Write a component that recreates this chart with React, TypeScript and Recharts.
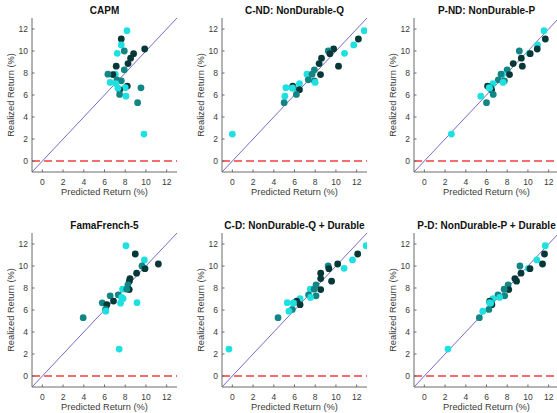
import React from "react";
import {
  ScatterChart,
  Scatter,
  XAxis,
  YAxis,
  ReferenceLine,
} from "recharts";

// ---------------------------------------------------------------------------
// Data: realized returns are shared, predicted returns differ per model
// ---------------------------------------------------------------------------

const realized = [
  11.84, 11.09, 10.55, 10.18, 10.0, 9.79, 9.76, 9.35, 8.86, 8.62, 8.29, 7.89,
  7.86, 7.89, 7.38, 7.29, 7.14, 7.04, 6.81, 6.67, 6.65, 6.48, 6.05, 5.89, 5.3,
  2.45, 6.62,
];

// 0 = light, 1 = mid, 2 = dark
const group = [
  0, 2, 0, 2, 1, 0, 2, 2, 2, 2, 1, 0, 2, 1, 1, 1, 0, 0, 2, 0, 1, 2, 1, 0, 1, 0, 0,
];

const capm = [
  8.17, 7.62, 7.62, 9.88, 7.91, 7.23, 8.81, 8.52, 8.27, 7.13, 7.91, 7.04, 6.81,
  6.33, 7.2, 7.62, 6.55, 7.1, 8.2, 8.0, 9.52, 7.46, 7.46, 8.07, 9.2, 9.81, 7.3,
];
const cnd = [
  12.73, 12.17, 11.72, 9.78, 9.26, 10.83, 9.42, 8.61, 8.38, 10.25, 7.92, 7.2,
  8.51, 7.7, 7.33, 7.92, 7.99, 6.48, 5.83, 5.17, 5.9, 6.48, 6.18, 5.07, 5.0, 0.0,
  5.79,
];
const pnd = [
  11.55, 11.68, 10.93, 10.9, 9.17, 10.12, 10.22, 9.36, 8.58, 9.46, 7.99, 7.53,
  8.22, 7.4, 7.14, 7.73, 7.6, 6.62, 6.1, 6.26, 6.4, 6.49, 6.65, 5.45, 6.0, 2.61,
  6.3,
];
const ff5 = [
  8.07, 8.97, 9.85, 11.2, 9.62, 9.91, 9.9, 9.1, 8.46, 8.4, 8.26, 7.75, 8.39,
  8.15, 7.33, 6.55, 7.65, 7.8, 6.87, 9.14, 5.78, 6.23, 6.1, 6.13, 3.94, 7.42,
  7.55,
];
const cd = [
  12.92, 12.1, 11.6, 10.17, 9.25, 10.79, 9.32, 8.53, 8.53, 9.58, 8.08, 7.52,
  8.53, 7.9, 7.36, 8.08, 7.55, 6.54, 6.21, 5.3, 5.95, 6.54, 5.79, 5.46, 4.41,
  -0.33, 5.89,
];
const pd = [
  11.67, 11.6, 10.86, 11.41, 9.23, 10.04, 10.2, 9.33, 8.74, 8.9, 8.09, 7.76,
  8.15, 7.7, 7.11, 7.76, 7.27, 6.62, 6.3, 6.29, 6.45, 6.52, 6.23, 5.64, 5.31,
  2.28, 6.4,
];

const titles = [
  "CAPM",
  "C-ND: NonDurable-Q",
  "P-ND: NonDurable-P",
  "FamaFrench-5",
  "C-D: NonDurable-Q + Durable",
  "P-D: NonDurable-P + Durable",
];
const predicted = [capm, cnd, pnd, ff5, cd, pd];

const ticks = [0, 2, 4, 6, 8, 10, 12];

// ---------------------------------------------------------------------------
// Styling / layout
// ---------------------------------------------------------------------------

const GROUP_COLORS = ["#1fe0e0", "#138585", "#073838"];
const FONT = '"Liberation Sans", Arial, Helvetica, sans-serif';
const AXIS_COLOR = "#6a6a6a";
const TEXT_COLOR = "#3a3a3a";

const PLOT_LEFT = [32, 222, 414];
const PLOT_TOP = [18, 233];
const PLOT_W = 145;

function XTick({ x, y, payload }: any) {
  return (
    <g>
      <line x1={x} x2={x} y1={y} y2={y - 2.5} stroke={AXIS_COLOR} />
      <text
        x={x}
        y={y + 10}
        textAnchor="middle"
        dominantBaseline="central"
        fontSize={8.5}
        fill={TEXT_COLOR}
        fontFamily={FONT}
      >
        {payload.value}
      </text>
    </g>
  );
}

function YTick({ x, y, payload }: any) {
  return (
    <g>
      <line x1={x} x2={x + 2.5} y1={y} y2={y} stroke={AXIS_COLOR} />
      <text
        x={x - 4}
        y={y}
        textAnchor="end"
        dominantBaseline="central"
        fontSize={8.5}
        fill={TEXT_COLOR}
        fontFamily={FONT}
      >
        {payload.value}
      </text>
    </g>
  );
}

function Panel({ idx }: { idx: number }) {
  const col = idx % 3;
  const row = Math.floor(idx / 3);
  const left = PLOT_LEFT[col];
  const top = PLOT_TOP[row];
  const xs = predicted[idx];
  const data = realized.map((r, i) => ({ x: xs[i], y: r, g: group[i] }));

  return (
    <>
      <div
        style={{
          position: "absolute",
          left: left - 20,
          top: top - 13,
          width: PLOT_W + 40,
          textAlign: "center",
          fontFamily: FONT,
          fontWeight: "bold",
          fontSize: 10,
          lineHeight: "12px",
          color: "#111",
          whiteSpace: "nowrap",
        }}
      >
        {titles[idx]}
      </div>
      <div style={{ position: "absolute", left: left - 40, top: top - 5 }}>
        <ScatterChart
          width={190}
          height={192}
          margin={{ top: 5, right: 5, left: 10, bottom: 10 }}
        >
          <XAxis
            type="number"
            dataKey="x"
            domain={[-1, 13]}
            ticks={ticks}
            interval={0}
            allowDataOverflow
            height={23}
            tickSize={0}
            tickMargin={0}
            tickLine={false}
            tick={<XTick />}
            axisLine={{ stroke: AXIS_COLOR }}
            label={{
              value: "Predicted Return (%)",
              position: "insideBottom",
              offset: 0,
              fill: TEXT_COLOR,
              fontSize: 9.3,
              fontFamily: FONT,
            }}
          />
          <YAxis
            type="number"
            dataKey="y"
            domain={[-1, 13]}
            ticks={ticks}
            interval={0}
            allowDataOverflow
            width={30}
            tickSize={0}
            tickMargin={0}
            tickLine={false}
            tick={<YTick />}
            axisLine={{ stroke: AXIS_COLOR }}
            label={{
              value: "Realized Return (%)",
              angle: -90,
              position: "insideLeft",
              offset: 9,
              fill: TEXT_COLOR,
              fontSize: 9.3,
              fontFamily: FONT,
              style: { textAnchor: "middle" },
            }}
          />
          <ReferenceLine
            y={0}
            stroke="#f23c3c"
            strokeWidth={1.3}
            strokeDasharray="8 4"
          />
          <ReferenceLine
            segment={[
              { x: -1, y: -1 },
              { x: 13, y: 13 },
            ]}
            stroke="#7d68c6"
            strokeWidth={1}
          />
          <Scatter
            data={data}
            isAnimationActive={false}
            shape={(p: any) => (
              <circle
                cx={p.cx}
                cy={p.cy}
                r={3.4}
                fill={GROUP_COLORS[p.payload.g]}
              />
            )}
          />
        </ScatterChart>
      </div>
    </>
  );
}

export default function App() {
  return (
    <div
      style={{
        position: "absolute",
        left: 0,
        top: 0,
        width: 557,
        height: 413,
        overflow: "hidden",
        background: "#fff",
      }}
    >
      {titles.map((_, i) => (
        <Panel key={i} idx={i} />
      ))}
    </div>
  );
}
